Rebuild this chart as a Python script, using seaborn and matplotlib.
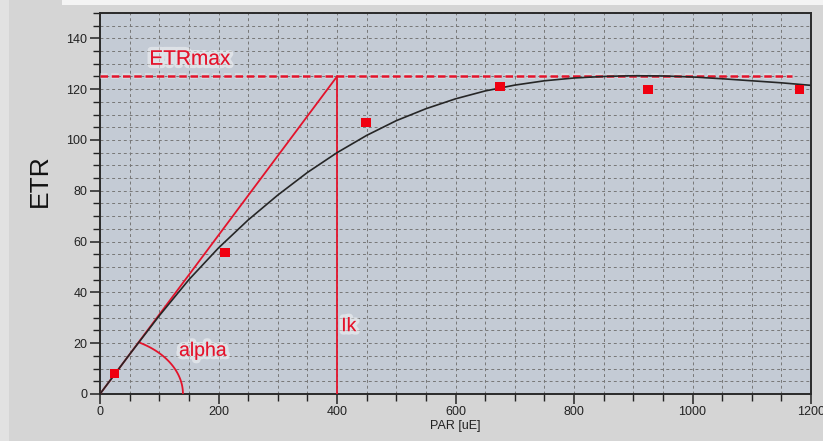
import numpy as np
import pandas as pd
import matplotlib
matplotlib.use("Agg")
import matplotlib.pyplot as plt
import matplotlib.patheffects as pe
from matplotlib.patches import Rectangle
from matplotlib.ticker import MultipleLocator
import seaborn as sns

# ---- data ----
par_meas = [25, 211, 449, 675, 925, 1181]
etr_meas = [8.2, 55.7, 107, 121, 120, 120]

par_fit = [0, 25, 50, 100, 150, 200, 250, 300, 350, 400, 450, 500, 550, 600,
           650, 700, 750, 800, 850, 900, 950, 1000, 1050, 1100, 1150, 1200]
etr_fit = [0, 7.8, 15.6, 30.8, 45.0, 57.5, 68.5, 78.3, 87.2, 95.0, 101.8, 107.6,
           112.3, 116.2, 119.3, 121.6, 123.3, 124.4, 125.0, 125.3, 125.2, 124.8,
           124.1, 123.3, 122.5, 121.5]

etr_max = 125
ik = 400
etrmax_end = 1168
alpha_rx, alpha_ry = 140, 23

xticks = [0, 200, 400, 600, 800, 1000, 1200]
yticks = [0, 20, 40, 60, 80, 100, 120, 140]

RED = "#e3132b"
sns.set_style("white")
plt.rcParams["font.family"] = ["Liberation Sans", "DejaVu Sans"]

fig = plt.figure(figsize=(8.23, 4.41), dpi=100, facecolor="#d5d5d5")
fig.patches.append(Rectangle((0, 0), 0.011, 1, transform=fig.transFigure,
                             facecolor="#e2e2e2", edgecolor="none", zorder=-1))
fig.patches.append(Rectangle((0.075, 0.988), 0.925, 0.012, transform=fig.transFigure,
                             facecolor="#f4f4f4", edgecolor="none", zorder=-1))
ax = fig.add_axes([0.1215, 0.1066, 0.864, 0.864])
ax.set_facecolor("#c4cbd5")

df_fit = pd.DataFrame({"PAR": par_fit, "ETR": etr_fit})
df_meas = pd.DataFrame({"PAR": par_meas, "ETR": etr_meas})

ax.set_xlim(0, 1200)
ax.set_ylim(0, 150)
ax.xaxis.set_major_locator(MultipleLocator(200))
ax.xaxis.set_minor_locator(MultipleLocator(50))
ax.yaxis.set_major_locator(MultipleLocator(20))
ax.yaxis.set_minor_locator(MultipleLocator(5))
ax.set_yticks(yticks)
ax.set_xticks(xticks)
ax.grid(which="both", color="#777777", linestyle=(0, (3, 3)), linewidth=0.7)
ax.set_axisbelow(True)
ax.tick_params(which="major", direction="out", length=7, width=1.1, color="#222222",
               labelsize=9, labelcolor="#222222", left=True, bottom=True, pad=2)
ax.tick_params(which="minor", direction="out", length=5, width=1.0, color="#222222",
               left=True, bottom=True)
for s in ax.spines.values():
    s.set_color("#2a2a2a")
    s.set_linewidth(1.4)

halo = [pe.withStroke(linewidth=4, foreground=(1, 1, 1, 0.35))]

# ETRmax dashed line
ax.plot([0, etrmax_end], [etr_max, etr_max], color=RED, linestyle=(0, (3, 1.5)),
        linewidth=1.8, path_effects=halo, zorder=3)
# initial slope line and Ik line
ax.plot([0, ik], [0, etr_max], color=RED, linewidth=1.3, zorder=3)
ax.plot([ik, ik], [0, etr_max], color=RED, linewidth=1.3, zorder=3)

# alpha arc
slope = etr_max / ik
t_end = np.arctan(slope * alpha_rx / alpha_ry)
t = np.linspace(0, t_end, 60)
ax.plot(alpha_rx * np.cos(t), alpha_ry * np.sin(t), color=RED, linewidth=1.3, zorder=3)

# fit curve
sns.lineplot(data=df_fit, x="PAR", y="ETR", ax=ax, color="#262626", linewidth=1.2,
             zorder=4)
# measured points
sns.scatterplot(data=df_meas, x="PAR", y="ETR", ax=ax, marker="s", color="#f00010",
                s=45, edgecolor="none", zorder=5)

txt_kw = dict(color=RED, path_effects=[pe.withStroke(linewidth=5, foreground=(1, 1, 1, 0.45))],
              zorder=6)
ax.text(152, 131.8, "ETRmax", fontsize=15, ha="center", va="center", **txt_kw)
ax.text(174, 16.8, "alpha", fontsize=14, ha="center", va="center", **txt_kw)
ax.text(407, 26.5, "Ik", fontsize=14, ha="left", va="center", **txt_kw)

ax.set_xlabel("PAR [uE]", fontsize=9, color="#222222", labelpad=1)
ax.set_ylabel("ETR", fontsize=19, color="#111111")
ax.yaxis.set_label_coords(-0.068, 0.56)

fig.savefig("out.png", dpi=100, facecolor=fig.get_facecolor())
